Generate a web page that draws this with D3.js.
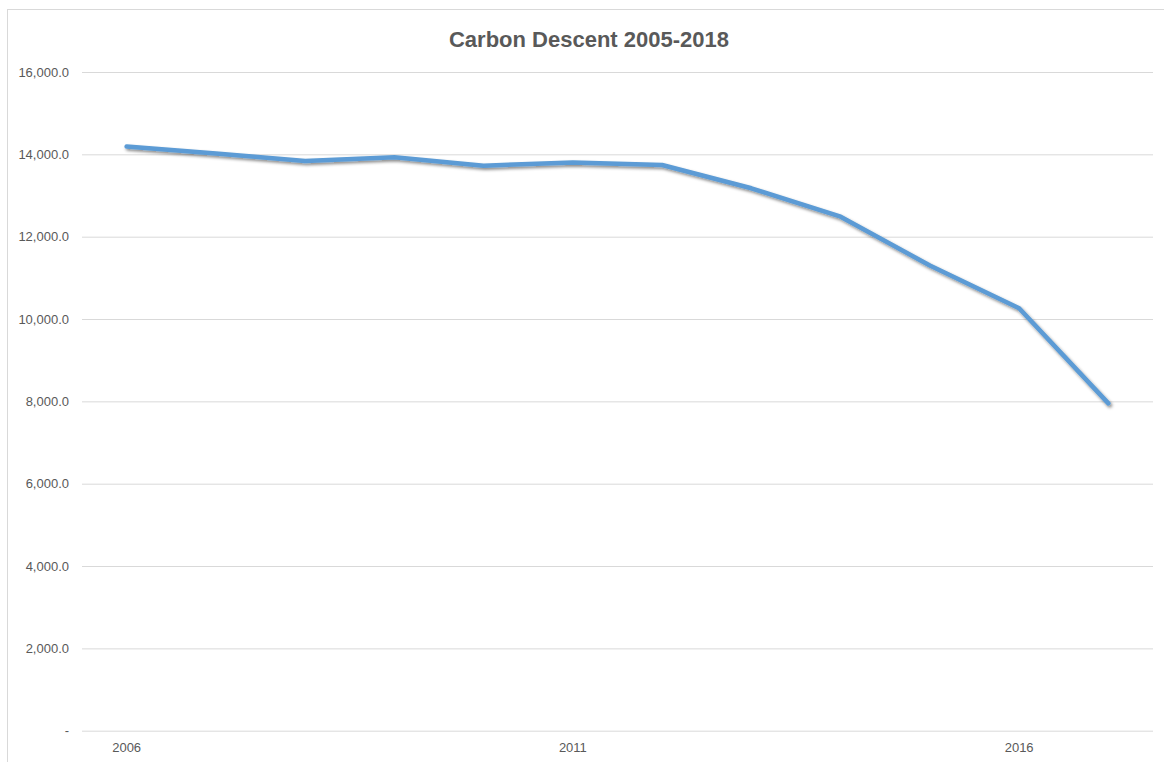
<!DOCTYPE html>
<html>
<head>
<meta charset="utf-8">
<script src="https://cdn.jsdelivr.net/npm/d3@7"></script>
<style>
    body { margin: 0; background: #fff; }
    svg text { font-family: "Liberation Sans", Arial, sans-serif; fill: #595959; }
    .grid line { stroke: #d9d9d9; stroke-width: 1; }
</style>
</head>
<body>
<div id="chart"></div>
<script>
// Datos
const years = ['2006', '2007', '2008', '2009', '2010', '2011', '2012', '2013', '2014', '2015', '2016', '2017'];
const emissions = [14190, 14020, 13840, 13930, 13725, 13800, 13740, 13175, 12485, 11300, 10260, 7950];
const yTicks = [0, 2000, 4000, 6000, 8000, 10000, 12000, 14000, 16000];
const xLabels = ['2006', '2011', '2016'];
const title = 'Carbon Descent 2005-2018';

const width = 1164;
const height = 762;
const margin = {top: 72, right: 11, bottom: 31.3, left: 82};

const svg = d3.select('#chart')
    .append('svg')
    .attr('width', width)
    .attr('height', height);

// sombra de la linea
const defs = svg.append('defs');
const filter = defs.append('filter')
    .attr('id', 'shadow')
    .attr('x', '-5%').attr('y', '-20%')
    .attr('width', '110%').attr('height', '140%');
filter.append('feDropShadow')
    .attr('dx', 1.5).attr('dy', 2)
    .attr('stdDeviation', 1.5)
    .attr('flood-color', '#000')
    .attr('flood-opacity', 0.45);

// borde del area del grafico
svg.append('rect')
    .attr('x', 7.5).attr('y', 9.5)
    .attr('width', width).attr('height', height)
    .attr('fill', 'none')
    .attr('stroke', '#d9d9d9');

const x = d3.scaleBand()
    .domain(years)
    .range([margin.left, width - margin.right]);

const y = d3.scaleLinear()
    .domain([0, 16000])
    .range([height - margin.bottom, margin.top]);

// lineas de cuadricula y etiquetas del eje Y
const yAxis = svg.append('g')
    .attr('class', 'grid')
    .attr('transform', `translate(${margin.left},0)`)
    .call(d3.axisLeft(y)
        .tickValues(yTicks)
        .tickSize(-(width - margin.left - margin.right))
        .tickPadding(13)
        .tickFormat(d => d === 0 ? '-' : d3.format(',.1f')(d)));
yAxis.select('.domain').remove();
yAxis.selectAll('text').style('font-size', '13px');

// eje X
const xAxis = svg.append('g')
    .attr('transform', `translate(0,${height - margin.bottom})`)
    .call(d3.axisBottom(x)
        .tickValues(xLabels)
        .tickSize(0)
        .tickPadding(12));
xAxis.select('.domain').remove();
xAxis.selectAll('text').style('font-size', '13px');

// linea de datos
const line = d3.line()
    .x((d, i) => x(years[i]) + x.bandwidth() / 2)
    .y(d => y(d));

svg.append('path')
    .datum(emissions)
    .attr('d', line)
    .attr('fill', 'none')
    .attr('stroke', '#5b9bd5')
    .attr('stroke-width', 4.5)
    .attr('stroke-linejoin', 'round')
    .attr('stroke-linecap', 'round')
    .attr('filter', 'url(#shadow)');

// titulo
svg.append('text')
    .attr('x', 589)
    .attr('y', 47)
    .attr('text-anchor', 'middle')
    .style('font-size', '22px')
    .style('font-weight', 'bold')
    .text(title);
</script>
</body>
</html>
